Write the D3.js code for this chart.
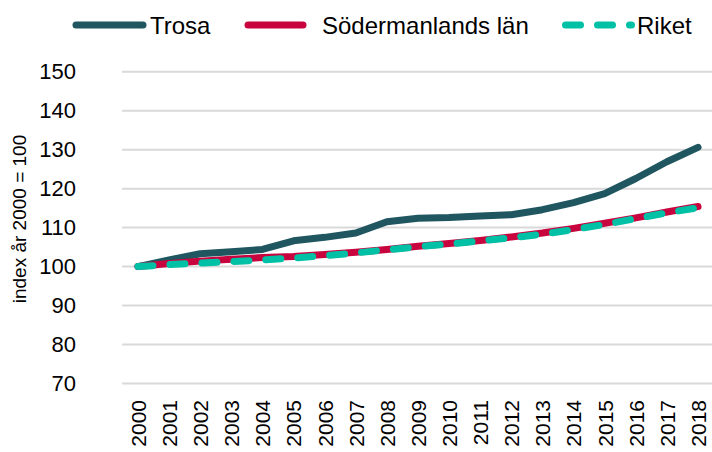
<!DOCTYPE html>
<html>
<head>
<meta charset="utf-8">
<script src="https://cdn.jsdelivr.net/npm/d3@7"></script>
<style>
  body { margin: 0; background: #fff; }
  svg { display: block; font-family: "Liberation Sans", Arial, sans-serif; }
</style>
</head>
<body>
<div class="chart"></div>
<script>
// years on the x axis
var years = ['2000','2001','2002','2003','2004','2005','2006','2007','2008','2009',
  '2010','2011','2012','2013','2014','2015','2016','2017','2018'];

// index values, year 2000 = 100
var trosa = [100, 101.7, 103.3, 103.8, 104.4, 106.6, 107.5, 108.6, 111.5, 112.4,
  112.6, 113.0, 113.3, 114.6, 116.4, 118.7, 122.6, 126.9, 130.6];
var sodermanland = [100, 100.8, 101.4, 101.9, 102.3, 102.6, 103.1, 103.7, 104.4, 105.2,
  105.9, 106.7, 107.6, 108.6, 109.8, 111.1, 112.5, 114.0, 115.4];
var riket = [100, 100.5, 100.9, 101.3, 101.7, 102.2, 102.8, 103.5, 104.3, 105.1,
  105.8, 106.6, 107.4, 108.3, 109.5, 110.8, 112.3, 113.8, 115.1];

var yTicks = [70, 80, 90, 100, 110, 120, 130, 140, 150];

var series = [
  { name: 'Trosa', values: trosa, color: '#1f5660', dash: null },
  { name: 'Södermanlands län', values: sodermanland, color: '#c8043f', dash: null },
  { name: 'Riket', values: riket, color: '#00c0a5', dash: '15 17' }
];

var width = 712, height = 452;

var svg = d3.select('.chart').append('svg')
  .attr('width', width)
  .attr('height', height);

var x = d3.scalePoint().domain(years).range([138, 698]);
var y = d3.scaleLinear().domain([70, 150]).range([383.5, 71.7]);

// gridlines
svg.append('g')
  .selectAll('line')
  .data(yTicks)
  .enter().append('line')
  .attr('x1', 122)
  .attr('x2', width)
  .attr('y1', function(d) { return y(d); })
  .attr('y2', function(d) { return y(d); })
  .style('stroke', '#d9d9d9')
  .style('stroke-width', 2);

// y axis labels
var yAxis = svg.append('g')
  .attr('transform', 'translate(76,0)')
  .call(d3.axisLeft(y).tickValues(yTicks).tickSize(0).tickPadding(0));
yAxis.select('.domain').remove();
yAxis.selectAll('text')
  .style('font-size', '22px')
  .style('fill', '#000')
  .style('font-family', '"Liberation Sans", Arial, sans-serif');

// x axis labels, rotated
var xAxis = svg.append('g')
  .attr('transform', 'translate(0,400)')
  .call(d3.axisBottom(x).tickSize(0).tickPadding(0));
xAxis.select('.domain').remove();
xAxis.selectAll('text')
  .attr('transform', 'rotate(-90)')
  .attr('dy', '0.35em')
  .attr('x', 0)
  .attr('y', 0)
  .style('text-anchor', 'end')
  .style('font-size', '21px')
  .style('fill', '#000')
  .style('font-family', '"Liberation Sans", Arial, sans-serif');

// y axis title
svg.append('text')
  .attr('transform', 'translate(26,219) rotate(-90)')
  .style('text-anchor', 'middle')
  .style('font-size', '19px')
  .text('index år 2000 = 100');

var line = d3.line()
  .x(function(d, i) { return x(years[i]); })
  .y(function(d) { return y(d); });

// lines
svg.append('g')
  .selectAll('path')
  .data(series)
  .enter().append('path')
  .attr('d', function(d) { return line(d.values); })
  .style('fill', 'none')
  .style('stroke', function(d) { return d.color; })
  .style('stroke-width', 7)
  .style('stroke-linecap', 'round')
  .style('stroke-linejoin', 'round')
  .style('stroke-dasharray', function(d) { return d.dash; });

// legend
var legendPos = [
  { x1: 76, x2: 143, tx: 150, dash: null },
  { x1: 248, x2: 303, tx: 322, dash: null },
  { x1: 565.5, x2: 631.5, tx: 637, dash: '15 17' }
];

var legend = svg.append('g')
  .selectAll('g')
  .data(series)
  .enter().append('g');

legend.append('line')
  .attr('x1', function(d, i) { return legendPos[i].x1; })
  .attr('x2', function(d, i) { return legendPos[i].x2; })
  .attr('y1', 25)
  .attr('y2', 25)
  .style('stroke', function(d) { return d.color; })
  .style('stroke-width', 7)
  .style('stroke-linecap', 'round')
  .style('stroke-dasharray', function(d, i) { return legendPos[i].dash; });

legend.append('text')
  .attr('x', function(d, i) { return legendPos[i].tx; })
  .attr('y', 33.5)
  .style('font-size', '24px')
  .style('fill', '#000')
  .text(function(d) { return d.name; });
</script>
</body>
</html>
